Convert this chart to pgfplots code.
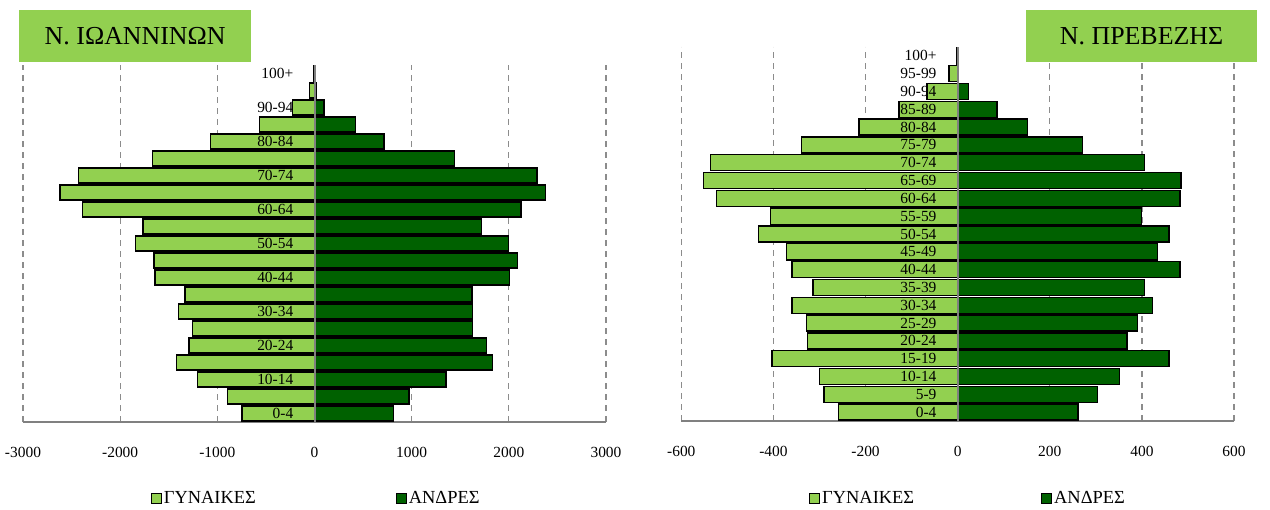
\documentclass[border=0pt]{standalone}
\usepackage{fontspec}
\setmainfont{Liberation Serif}
\usepackage{pgfplots}
\usepackage{pgfplotstable}
\pgfplotsset{compat=1.18}
\definecolor{lgreen}{RGB}{146,208,80}
\definecolor{dgreen}{RGB}{0,97,0}
\definecolor{gridgray}{RGB}{140,140,140}
\definecolor{axgray}{RGB}{128,128,128}

% age group index (0 = 0-4 ... 20 = 100+); f = women (negative), m = men
\pgfplotstableread{
age fI mI fP mP
0 -748 816 -259 261
1 -898 974 -290 304
2 -1204 1355 -300 352
3 -1420 1835 -403 459
4 -1293 1773 -326 368
5 -1255 1626 -328 390
6 -1399 1629 -360 423
7 -1334 1622 -314 406
8 -1643 2006 -360 483
9 -1650 2092 -372 434
10 -1845 1999 -433 459
11 -1766 1718 -406 399
12 -2387 2126 -523 483
13 -2620 2377 -552 485
14 -2430 2291 -536 405
15 -1667 1443 -339 271
16 -1070 717 -214 152
17 -566 422 -127 85
18 -226 96 -67 23
19 -50 15 -19 1
20 -8 2 -3 0
}\data

\pgfplotsset{
  base/.style={
    scale only axis, anchor=south west,
    ymin=-0.5, ymax=20.5,
    /pgf/number format/assume math mode=true,
    /pgf/number format/1000 sep={},
  },
  bars/.style={
    base,
    axis x line*=bottom, hide y axis,
    x axis line style={axgray, line width=1.5bp},
    xmajorgrids,
    grid style={gridgray, line width=1.3bp, dash pattern=on 6bp off 5bp},
    major tick length=0pt,
    xticklabel style={font=\fontsize{15.5}{18}\selectfont, inner sep=0pt, anchor=north, yshift=-25bp},
    legend style={draw=none, fill=none, inner sep=0pt, font=\fontsize{18.5}{21}\selectfont, legend columns=2},
  },
  over/.style={
    base,
    hide x axis, axis y line*=middle,
    y axis line style={axgray, line width=2bp},
    major tick length=0pt,
    yticklabel style={font=\fontsize{15.5}{18}\selectfont, inner sep=0pt, anchor=east, xshift=-21bp},
  },
  sq/.style={legend image code/.code={\draw[##1, line width=1bp] (0bp,-5bp) rectangle (10bp,5bp);}},
  fbar/.style={xbar, bar width=0.9, bar shift=0pt, fill=lgreen, draw=black, line width=1.4bp, sq},
  mbar/.style={xbar, bar width=0.9, bar shift=0pt, fill=dgreen, draw=black, line width=1.4bp, sq},
}

\begin{document}
\begin{tikzpicture}
\path[use as bounding box] (0,0) rectangle (1270bp,510bp);

% ---------- Ioannina ----------
\begin{axis}[bars, at={(23bp,88bp)}, width=583bp, height=357bp,
  xmin=-3000, xmax=3000, xtick={-3000,-2000,...,3000},
  legend style={at={(0.219,-0.2129)}, anchor=west,
    /tikz/every even column/.append style={column sep=138bp}}]
\addplot[fbar] table[x=fI, y=age] \data;
\addlegendentry{ΓΥΝΑΙΚΕΣ}
\addplot[mbar] table[x=mI, y=age] \data;
\addlegendentry{ΑΝΔΡΕΣ}
\end{axis}
\begin{axis}[over, at={(23bp,88bp)}, width=583bp, height=357bp,
  xmin=-3000, xmax=3000,
  ytick={0,2,...,20},
  yticklabels={0-4,10-14,20-24,30-34,40-44,50-54,60-64,70-74,80-84,90-94,100+}]
\addplot[draw=none, forget plot] coordinates {(0,0)};
\end{axis}

% ---------- Preveza ----------
\begin{axis}[bars, at={(681.3bp,89bp)}, width=552.7bp, height=374bp,
  xmin=-600, xmax=600, xtick={-600,-400,...,600},
  legend style={at={(0.231,-0.2059)}, anchor=west,
    /tikz/every even column/.append style={column sep=125bp}}]
\addplot[fbar] table[x=fP, y=age] \data;
\addlegendentry{ΓΥΝΑΙΚΕΣ}
\addplot[mbar] table[x=mP, y=age] \data;
\addlegendentry{ΑΝΔΡΕΣ}
\end{axis}
\begin{axis}[over, at={(681.3bp,89bp)}, width=552.7bp, height=374bp,
  xmin=-600, xmax=600,
  ytick={0,1,...,20},
  yticklabels={0-4,5-9,10-14,15-19,20-24,25-29,30-34,35-39,40-44,45-49,50-54,55-59,60-64,65-69,70-74,75-79,80-84,85-89,90-94,95-99,100+}]
\addplot[draw=none, forget plot] coordinates {(0,0)};
\end{axis}

% ---------- titles ----------
\node[fill=lgreen, minimum width=232bp, minimum height=52bp, inner sep=0pt, anchor=north west,
  font=\fontsize{26}{30}\selectfont] at (19bp,500bp) {Ν. ΙΩΑΝΝΙΝΩΝ};
\node[fill=lgreen, minimum width=230.7bp, minimum height=52bp, inner sep=0pt, anchor=north west,
  font=\fontsize{26}{30}\selectfont] at (1026bp,500bp) {Ν. ΠΡΕΒΕΖΗΣ};
\end{tikzpicture}
\end{document}
